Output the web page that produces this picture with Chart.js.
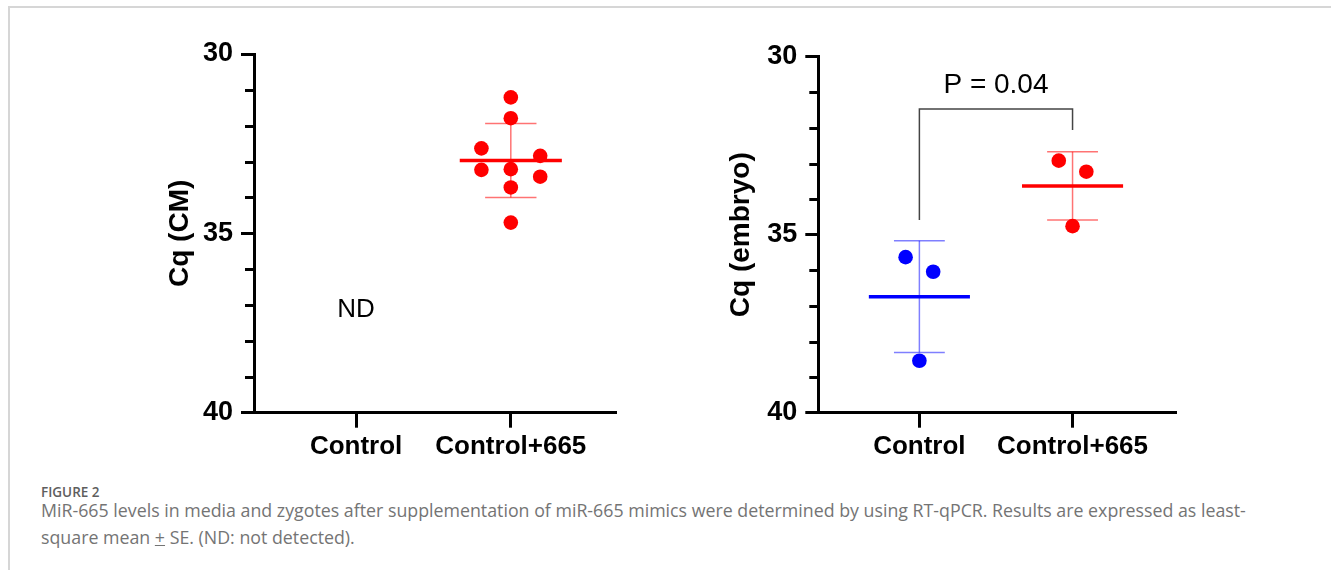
<!DOCTYPE html>
<html>
<head>
<meta charset="utf-8">
<script src="https://cdn.jsdelivr.net/npm/chart.js@4.4.0/dist/chart.umd.min.js"></script>
<style>
  body { margin: 0; background: #fff; width: 1331px; height: 570px; overflow: hidden; position: relative; }
  .frame { position: absolute; left: 8px; top: 6px; right: -4px; bottom: -4px; border-top: 2px solid #d6d6d6; border-left: 2px solid #d6d6d6; }
  #cm { position: absolute; left: 0; top: 0; }
  #emb { position: absolute; left: 650px; top: 0; }
  .fig { position: absolute; left: 41px; top: 482px; font-family: "Open Sans", sans-serif; font-size: 13.5px; font-weight: 600; line-height: 20px; color: #5e5e5e; }
  .text { position: absolute; left: 41px; top: 497px; font-family: "Open Sans", sans-serif; font-size: 17.8px; line-height: 27px; color: #747474; white-space: nowrap; }
</style>
</head>
<body>
<div class="frame"></div>
<canvas id="cm" width="650" height="470"></canvas>
<canvas id="emb" width="681" height="470"></canvas>
<div class="fig">FIGURE 2</div>
<div class="text">MiR-665 levels in media and zygotes after supplementation of miR-665 mimics were determined by using RT-qPCR. Results are expressed as least-<br>square mean <u>+</u> SE. (ND: not detected).</div>
<script>
const categories = ["Control", "Control+665"];
const yTickLabels = [30, 35, 40];

// Cq in culture media (Control is not detected)
const cmControl665 = [31.21, 31.79, 32.63, 32.84, 33.23, 33.21, 33.42, 33.72, 34.70];
const cmSpread = [0, 0, -0.19, 0.19, -0.19, 0, 0.19, 0, 0];
const cmMean = 32.97;
const cmErr = 1.03;

// Cq in embryos
const embryoControl = [35.63, 36.04, 38.54];
const embryoControl665 = [32.92, 33.23, 34.76];
const embryoSpread = [-0.09, 0.09, 0];
const embryoMean = [36.74, 33.63];
const embryoErr = [1.57, 0.96];
const bracketY = [34.59, 31.47, 32.06];
const pText = "P = 0.04";

const family = "'Liberation Sans', Arial, sans-serif";
const RED = "#ff0000", RED_FAINT = "rgba(255,0,0,0.55)";
const BLUE = "#0000ff", BLUE_FAINT = "rgba(0,0,255,0.5)";

function seg(x1, y1, x2, y2, color, width) {
  return {
    data: [{ x: x1, y: y1 }, { x: x2, y: y2 }],
    showLine: true, borderColor: color, borderWidth: width,
    pointRadius: 0, pointHoverRadius: 0, order: 1
  };
}

function meanErr(x, mean, err, solid, faint) {
  return [
    seg(x - 0.33, mean, x + 0.33, mean, solid, 3.5),
    seg(x, mean - err, x, mean + err, faint, 1.5),
    seg(x - 0.166, mean - err, x + 0.166, mean - err, faint, 1.5),
    seg(x - 0.166, mean + err, x + 0.166, mean + err, faint, 1.5)
  ];
}

function dots(x, values, spread, color) {
  return {
    data: values.map(function (v, i) { return { x: x + spread[i], y: v }; }),
    backgroundColor: color, borderWidth: 0, pointRadius: 7.3, pointHoverRadius: 7.3, order: 0
  };
}

// minor y ticks + free text, placed through the chart scales
const notes = {
  id: "notes",
  afterDatasetsDraw(chart, args, opts) {
    const { ctx, chartArea, scales: { x, y } } = chart;
    ctx.save();
    ctx.strokeStyle = "#000";
    ctx.lineWidth = 3;
    for (let v = 31; v < 40; v++) {
      if (v % 5 === 0) continue;
      const py = Math.round(y.getPixelForValue(v)) + 0.5;
      ctx.beginPath();
      ctx.moveTo(chartArea.left - 9, py);
      ctx.lineTo(chartArea.left, py);
      ctx.stroke();
    }
    ctx.fillStyle = "#000";
    ctx.textAlign = "center";
    ctx.textBaseline = "middle";
    (opts.labels || []).forEach(function (l) {
      ctx.font = l.font;
      ctx.fillText(l.text, x.getPixelForValue(l.x), y.getPixelForValue(l.y));
    });
    ctx.restore();
  }
};

function options(pad, yWidth, title, labels) {
  return {
    responsive: false,
    animation: false,
    layout: { padding: pad },
    plugins: { legend: { display: false }, tooltip: { enabled: false }, notes: { labels: labels } },
    scales: {
      x: {
        type: "linear", min: -0.66, max: 1.68,
        afterBuildTicks: function (s) { s.ticks = categories.map(function (c, i) { return { value: i }; }); },
        afterFit: function (s) { s.height = 57.3; },
        ticks: {
          callback: function (v) { return categories[v]; },
          font: { family: family, size: 26, weight: "bold" }, color: "#000",
          padding: 4, maxRotation: 0, autoSkip: false
        },
        grid: { drawOnChartArea: false, tickLength: 15, tickWidth: 3, tickColor: "#000" },
        border: { color: "#000", width: 3 }
      },
      y: {
        type: "linear", reverse: true, min: 30, max: 40,
        afterBuildTicks: function (s) { s.ticks = yTickLabels.map(function (v) { return { value: v }; }); },
        afterFit: function (s) { s.width = yWidth; },
        ticks: { font: { family: family, size: 27, weight: "bold" }, color: "#000", padding: 8 },
        grid: { drawOnChartArea: false, tickLength: 13, tickWidth: 3, tickColor: "#000" },
        border: { color: "#000", width: 3 },
        title: {
          display: true, text: title, color: "#000", padding: 0,
          font: { family: family, size: 28, weight: "bold", lineHeight: 1 }
        }
      }
    }
  };
}

new Chart(document.getElementById("cm"), {
  type: "scatter",
  data: {
    datasets: [dots(1, cmControl665, cmSpread, RED)].concat(meanErr(1, cmMean, cmErr, RED, RED_FAINT))
  },
  options: options({ left: 166, top: 54, right: 34, bottom: 0 }, 88, "Cq (CM)",
    [{ text: "ND", x: 0, y: 37.14, font: "26px " + family }]),
  plugins: [notes]
});

new Chart(document.getElementById("emb"), {
  type: "scatter",
  data: {
    datasets: [
      dots(0, embryoControl, embryoSpread, BLUE),
      dots(1, embryoControl665, embryoSpread, RED),
      {
        data: [{ x: 0, y: bracketY[0] }, { x: 0, y: bracketY[1] }, { x: 1, y: bracketY[1] }, { x: 1, y: bracketY[2] }],
        showLine: true, borderColor: "#444", borderWidth: 1.5, pointRadius: 0, pointHoverRadius: 0, order: 2
      }
    ].concat(meanErr(0, embryoMean[0], embryoErr[0], BLUE, BLUE_FAINT))
     .concat(meanErr(1, embryoMean[1], embryoErr[1], RED, RED_FAINT))
  },
  options: options({ left: 77.7, top: 56.7, right: 154.3, bottom: 0 }, 90.6, "Cq (embryo)",
    [{ text: pText, x: 0.5, y: 30.79, font: "28px " + family }]),
  plugins: [notes]
});
</script>
</body>
</html>
